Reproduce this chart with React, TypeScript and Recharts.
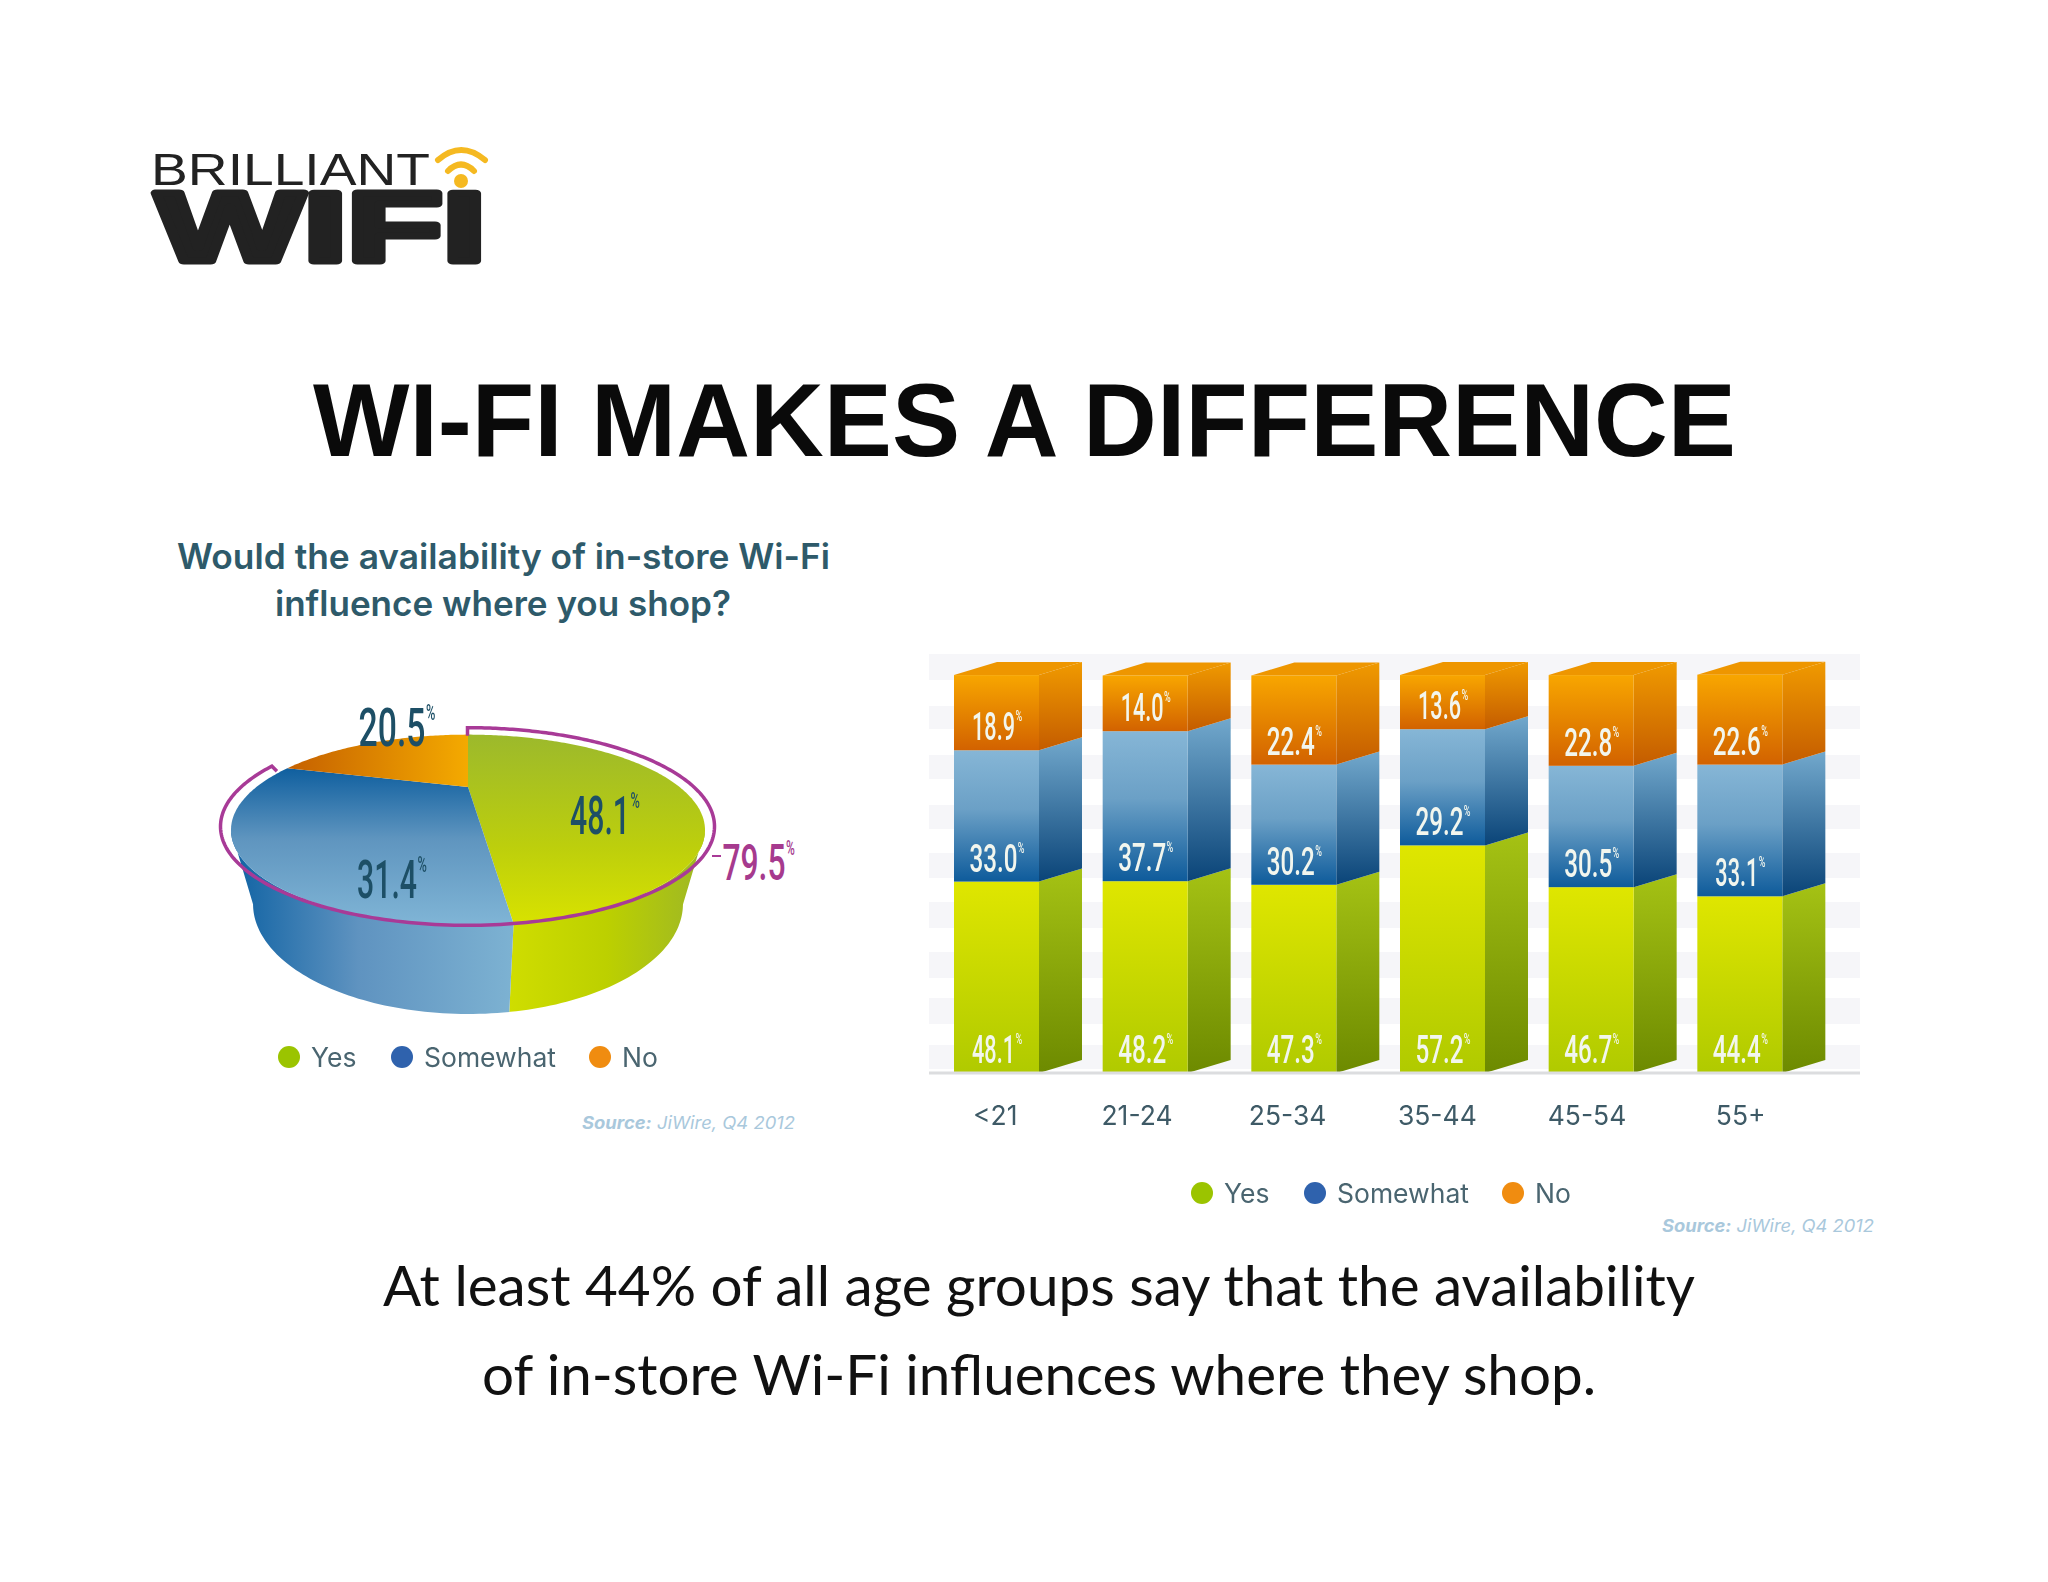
import { BarChart, Bar, XAxis, YAxis, CartesianGrid, LabelList, Legend, PieChart, Pie } from "recharts";

const ageGroups = ["<21", "21-24", "25-34", "35-44", "45-54", "55+"];
const yesValues = [48.1, 48.2, 47.3, 57.2, 46.7, 44.4];
const somewhatValues = [33.0, 37.7, 30.2, 29.2, 30.5, 33.1];
const noValues = [18.9, 14.0, 22.4, 13.6, 22.8, 22.6];

const pieNames = ["Yes", "Somewhat", "No"];
const pieValues = [48.1, 31.4, 20.5];
const purpleValues = [79.5, 20.5];

// bands of the faint striped background, in chart units
const stripeTicks = [1, 7, 12.3, 18.8, 23.9, 30.4, 36.4, 43, 49, 55.3, 61.3, 67.3, 73.9, 79.9, 86.4, 92.2, 98.7, 105.3];
// the age labels do not sit exactly under their bars
const tickNudge = [-1, -8, -6, -5, -4, 1];

const legendColors = ["#9bc400", "#2f62ad", "#f08c10"];
const pieLabelPos = [
  { x: 450, y: 154 },
  { x: 237, y: 218 },
  { x: 242, y: 66 },
];

const barData = ageGroups.map((age, i) => ({
  age,
  yes: yesValues[i],
  somewhat: somewhatValues[i],
  no: noValues[i],
}));
const pieData = pieNames.map((name, i) => ({ name, value: pieValues[i] }));
const purpleData = purpleValues.map((value, i) => ({ name: i === 0 ? "yes+somewhat" : "no", value }));

const NUM_FONT = "Roboto, sans-serif";
const TEXT_FONT = "Inter, 'Noto Sans', sans-serif";
const DEPTH_X = 43;
const DEPTH_Y = -13;
const PERSPECTIVE = -0.45;

// the original numerals are condensed with a very narrow "1"
function numWidth(text: string, size: number) {
  let em = 0;
  for (const ch of text) em += ch === "1" ? 0.36 : ch === "." ? 0.24 : 0.56;
  return em * 0.645 * size;
}

function NumLabel({ x, y, size, fill, value }: { x: number; y: number; size: number; fill: string; value: number }) {
  const text = value.toFixed(1);
  const w = numWidth(text, size);
  const squeeze = w / (1.945 * size);
  return (
    <g fill={fill} fontFamily={NUM_FONT} fontWeight={500}>
      <text transform={`translate(${x},${y}) scale(${squeeze},1)`} fontSize={size} textAnchor="middle">
        {text}
      </text>
      <text transform={`translate(${x + w / 2 + size * 0.11},${y - size * 0.5}) scale(0.6,1)`} fontSize={size * 0.4} textAnchor="middle">
        %
      </text>
    </g>
  );
}

function bar3d(frontId: string, sideId: string, withTop: boolean) {
  return (props: any) => {
    const { x, y, width, height } = props;
    const r = x + width;
    return (
      <g>
        {withTop && (
          <path
            d={`M${x},${y}L${x + DEPTH_X},${y + DEPTH_Y}L${r + DEPTH_X},${y + DEPTH_Y}L${r},${y}Z`}
            fill="#ee9600"
          />
        )}
        <path
          d={`M${r},${y}L${r + DEPTH_X},${y + DEPTH_Y}L${r + DEPTH_X},${y + height + DEPTH_Y}L${r},${y + height}Z`}
          fill={`url(#${sideId})`}
        />
        <rect x={x} y={y} width={width} height={height} fill={`url(#${frontId})`} />
      </g>
    );
  };
}

function barLabel(props: any) {
  const { x, y, width, height, value } = props;
  return <NumLabel x={x + width / 2 - 3} y={y + height - 10} size={38} fill="#f2f6ee" value={Number(value)} />;
}

function AgeTick(props: any) {
  const { x, y, payload, index } = props;
  return (
    <text x={x + tickNudge[index]} y={y} dy={44} textAnchor="middle" fill="#3e5a66" fontSize={26.5} fontFamily={TEXT_FONT}>
      {payload.value}
    </text>
  );
}

function project(theta: number, cx: number, cy: number, rx: number, ry: number, a: number) {
  const u = Math.sin(theta);
  const v = -Math.cos(theta);
  const d = 1 + a * v;
  return [cx + (rx * u * Math.sqrt(1 - a * a)) / d, cy + (ry * (v + a)) / d];
}

function arcThetas(startAngle: number, endAngle: number) {
  const from = 90 - startAngle;
  const to = 90 - endAngle;
  const out: number[] = [];
  for (let t = from; t < to; t += 1) out.push((t * Math.PI) / 180);
  out.push((to * Math.PI) / 180);
  return out;
}

const pathOf = (pts: number[][]) => "M" + pts.map((p) => `${p[0]},${p[1]}`).join("L");

const sliceGrads = [
  { top: "url(#pieGreenTop)", wall: "url(#pieGreenWall)" },
  { top: "url(#pieBlueTop)", wall: "url(#pieBlueWall)" },
  { top: "url(#pieOrangeTop)", wall: "none" },
];

function PieSlice(props: any) {
  const { cx, cy, outerRadius, startAngle, endAngle, name } = props;
  const rx = outerRadius;
  const ry = outerRadius * 0.4025;
  const thetas = arcThetas(startAngle, endAngle);
  const top = thetas.map((t) => project(t, cx, cy, rx, ry, PERSPECTIVE));
  const front = thetas.filter((t) => {
    const v = -Math.cos(t);
    return v + PERSPECTIVE >= 0;
  });
  const grads = sliceGrads[pieNames.indexOf(name)] ?? sliceGrads[0];
  const apex = [cx, cy + ry * PERSPECTIVE];
  return (
    <g>
      {front.length > 1 && (
        <path
          d={
            pathOf([
              ...front.map((t) => project(t, cx, cy, rx, ry, PERSPECTIVE)),
              ...front
                .slice()
                .reverse()
                .map((t) => project(t, cx, cy + 74, rx * 0.907, 110, PERSPECTIVE)),
            ]) + "Z"
          }
          fill={grads.wall}
        />
      )}
      <path d={pathOf([apex, ...top]) + "Z"} fill={grads.top} />
    </g>
  );
}

function PurpleArc(props: any) {
  const { cx, cy, outerRadius, startAngle, endAngle, name } = props;
  if (name !== "yes+somewhat") return <g />;
  const pts = arcThetas(startAngle, endAngle).map((t) =>
    project(t, cx, cy, outerRadius, outerRadius * 0.4, -0.4)
  );
  const first = pts[0];
  const last = pts[pts.length - 1];
  const line = [[first[0], first[1] + 8], ...pts, [last[0] + 5, last[1] + 5]];
  return <path d={pathOf(line)} fill="none" stroke="#a83a97" strokeWidth={3.5} />;
}

function pieLabel(props: any) {
  const i = props.index;
  return <NumLabel x={pieLabelPos[i].x} y={pieLabelPos[i].y} size={53} fill="#1d4f66" value={pieValues[i]} />;
}

function LegendRow() {
  const offsets = [0, 113, 311];
  return (
    <div style={{ position: "relative", width: 460, height: 40, fontFamily: TEXT_FONT, fontSize: 26.5, color: "#4a6570" }}>
      {pieNames.map((name, i) => (
        <div key={name}>
          <span
            style={{
              position: "absolute",
              left: offsets[i],
              top: 6,
              width: 22,
              height: 22,
              borderRadius: "50%",
              background: legendColors[i],
            }}
          />
          <span style={{ position: "absolute", left: offsets[i] + 33, top: 1, lineHeight: "32px", whiteSpace: "nowrap" }}>{name}</span>
        </div>
      ))}
    </div>
  );
}

function Grad({ id, stops, horizontal }: { id: string; stops: [number, string][]; horizontal?: boolean }) {
  return (
    <linearGradient id={id} x1="0" y1="0" x2={horizontal ? "1" : "0"} y2={horizontal ? "0" : "1"}>
      {stops.map(([o, c]) => (
        <stop key={o} offset={o} stopColor={c} />
      ))}
    </linearGradient>
  );
}

function StackedBars() {
  return (
    <div style={{ position: "absolute", left: 900, top: 640, filter: "blur(0.7px)" }}>
      <BarChart
        width={1000}
        height={580}
        data={barData}
        barSize={85}
        stackOffset="none"
        margin={{ left: 29, right: 40, top: 10, bottom: 87 }}
      >
        <defs>
          <Grad id="frontGreen" stops={[[0, "#dfe600"], [1, "#b0ca00"]]} />
          <Grad id="sideGreen" stops={[[0, "#a5c214"], [1, "#6d8a00"]]} />
          <Grad id="frontBlue" stops={[[0, "#86b6d6"], [0.45, "#6ba0c6"], [1, "#0e5b9b"]]} />
          <Grad id="sideBlue" stops={[[0, "#72a8cc"], [1, "#0a4478"]]} />
          <Grad id="frontOrange" stops={[[0, "#f8a600"], [1, "#d26200"]]} />
          <Grad id="sideOrange" stops={[[0, "#f09a00"], [1, "#c45c00"]]} />
        </defs>
        <CartesianGrid vertical={false} stroke="none" horizontalFill={["#ffffff", "#f6f6f9"]} syncWithTicks />
        <XAxis
          dataKey="age"
          height={60}
          padding={{ left: -7, right: 46 }}
          tickLine={false}
          axisLine={{ stroke: "#dcdddf", strokeWidth: 3 }}
          tick={AgeTick}
        />
        <YAxis hide domain={[0, 106.3]} ticks={stripeTicks} interval={0} />
        <Legend
          layout="horizontal"
          verticalAlign="middle"
          align="center"
          content={<LegendRow />}
          wrapperStyle={{ left: 291, top: 536, width: 460 }}
        />
        <Bar dataKey="yes" stackId="a" isAnimationActive={false} shape={bar3d("frontGreen", "sideGreen", false)}>
          <LabelList dataKey="yes" content={barLabel} />
        </Bar>
        <Bar dataKey="somewhat" stackId="a" isAnimationActive={false} shape={bar3d("frontBlue", "sideBlue", false)}>
          <LabelList dataKey="somewhat" content={barLabel} />
        </Bar>
        <Bar dataKey="no" stackId="a" isAnimationActive={false} shape={bar3d("frontOrange", "sideOrange", true)}>
          <LabelList dataKey="no" content={barLabel} />
        </Bar>
      </BarChart>
    </div>
  );
}

function Pie3d() {
  return (
    <div style={{ position: "absolute", left: 150, top: 680, filter: "blur(0.7px)" }}>
      <PieChart width={660} height={420} margin={{ left: 0, right: 0, top: 0, bottom: 0 }}>
        <defs>
          <Grad id="pieGreenTop" stops={[[0, "#9cb92c"], [0.6, "#bdcf0c"], [1, "#d8e200"]]} />
          <Grad id="pieGreenWall" horizontal stops={[[0, "#cfdd00"], [0.5, "#bcd000"], [1, "#9db726"]]} />
          <Grad id="pieBlueTop" stops={[[0, "#0f5f9f"], [0.45, "#5f95bf"], [1, "#80b5d6"]]} />
          <Grad id="pieBlueWall" horizontal stops={[[0, "#0f62a3"], [0.45, "#5f93c0"], [1, "#7db2d2"]]} />
          <Grad id="pieOrangeTop" horizontal stops={[[0, "#c56000"], [1, "#f4aa00"]]} />
        </defs>
        <Pie
          data={pieData}
          dataKey="value"
          nameKey="name"
          cx={318}
          cy={150}
          innerRadius={0}
          outerRadius={237}
          startAngle={90}
          endAngle={-270}
          stroke="none"
          isAnimationActive={false}
          shape={PieSlice}
          inactiveShape={PieSlice}
          activeShape={PieSlice}
          label={pieLabel}
          labelLine={false}
        />
        <Pie
          data={purpleData}
          dataKey="value"
          nameKey="name"
          cx={317.5}
          cy={146.5}
          innerRadius={0}
          outerRadius={247}
          startAngle={90}
          endAngle={-270}
          stroke="none"
          isAnimationActive={false}
          shape={PurpleArc}
          inactiveShape={PurpleArc}
          activeShape={PurpleArc}
          legendType="none"
        />
        <Legend
          layout="horizontal"
          verticalAlign="middle"
          align="center"
          content={<LegendRow />}
          wrapperStyle={{ left: 128, top: 360, width: 460 }}
        />
      </PieChart>
    </div>
  );
}

function PageText() {
  return (
    <svg width={2048} height={1582} style={{ position: "absolute", left: 0, top: 0, pointerEvents: "none" }}>
      {/* logo */}
      <text x={151} y={185} fontFamily="Liberation Sans, sans-serif" fontSize={45} fill="#222" textLength={279} lengthAdjust="spacingAndGlyphs">
        BRILLIANT
      </text>
      <text
        x={156}
        y={261}
        fontFamily="Liberation Sans, sans-serif"
        fontWeight={700}
        fontSize={98}
        fill="#222"
        stroke="#222"
        strokeWidth={7}
        strokeLinejoin="round"
        textLength={330}
        lengthAdjust="spacingAndGlyphs"
      >
        WIFI
      </text>
      <path d="M438,160Q461,140 485,160" fill="none" stroke="#f5b921" strokeWidth={6} strokeLinecap="round" />
      <path d="M448,171Q461,158 474,171" fill="none" stroke="#f5b921" strokeWidth={6} strokeLinecap="round" />
      <circle cx={461} cy={181} r={7} fill="#f5b921" />

      {/* headline */}
      <text x={313} y={456} fontFamily="Liberation Sans, sans-serif" fontWeight={700} fontSize={103} fill="#0a0a0a" textLength={1423} lengthAdjust="spacingAndGlyphs">
        WI-FI MAKES A DIFFERENCE
      </text>

      {/* left chart title and source */}
      <g fontFamily={TEXT_FONT} fontWeight={600} fontSize={35} fill="#2e5a6a">
        <text x={177} y={569} textLength={653} lengthAdjust="spacingAndGlyphs">
          Would the availability of in-store Wi-Fi
        </text>
        <text x={275} y={616} textLength={456} lengthAdjust="spacingAndGlyphs">
          influence where you shop?
        </text>
      </g>
      <text x={582} y={1129} fontFamily={TEXT_FONT} fontStyle="italic" fontSize={17} fill="#a9c8dc" textLength={213} lengthAdjust="spacingAndGlyphs">
        <tspan fontWeight={700}>Source:</tspan> JiWire, Q4 2012
      </text>

      {/* 79.5 leader and label */}
      <line x1={712} y1={856} x2={721} y2={856} stroke="#a83a97" strokeWidth={2} />
      <NumLabel x={754} y={880} size={50} fill="#a63a8e" value={purpleValues[0]} />

      {/* right chart source */}
      <text x={1662} y={1232} fontFamily={TEXT_FONT} fontStyle="italic" fontSize={17} fill="#a9c8dc" textLength={212} lengthAdjust="spacingAndGlyphs">
        <tspan fontWeight={700}>Source:</tspan> JiWire, Q4 2012
      </text>

      {/* caption */}
      <g fontFamily="Lato, sans-serif" fontSize={56} fill="#111">
        <text x={383} y={1306} textLength={1312} lengthAdjust="spacingAndGlyphs">
          At least 44% of all age groups say that the availability
        </text>
        <text x={482} y={1395} textLength={1114} lengthAdjust="spacingAndGlyphs">
          of in-store Wi-Fi influences where they shop.
        </text>
      </g>
    </svg>
  );
}

export default function App() {
  return (
    <div style={{ position: "absolute", left: 0, top: 0, width: 2048, height: 1582, background: "#fff", overflow: "hidden" }}>
      <StackedBars />
      <Pie3d />
      <PageText />
    </div>
  );
}
